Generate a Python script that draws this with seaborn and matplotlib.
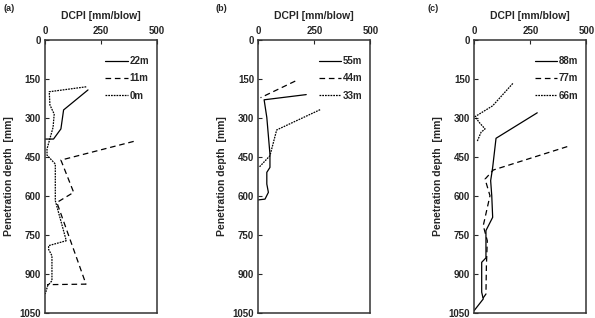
import matplotlib
matplotlib.use("Agg")
import matplotlib.pyplot as plt
import numpy as np
import pandas as pd
import seaborn as sns

# panel (a)
a_22m_dcpi = [192, 83, 71, 38, 0]
a_22m_depth = [192, 269, 342, 381, 381]
a_11m_dcpi = [396, 71, 128, 53, 183, 9]
a_11m_depth = [390, 462, 586, 625, 939, 941]
a_0m_dcpi = [184, 19, 22, 41, 36, 9, 9, 46, 46, 95, 16, 16, 31, 31, 12, 1]
a_0m_depth = [180, 199, 250, 285, 336, 419, 443, 477, 618, 772, 791, 805, 830, 926, 945, 977]

# panel (b)
b_55m_dcpi = [214, 26, 38, 52, 52, 38, 38, 45, 30, 0]
b_55m_depth = [210, 230, 298, 439, 490, 509, 554, 586, 612, 615]
b_44m_dcpi = [165, 10]
b_44m_depth = [158, 222]
b_33m_dcpi = [276, 82, 52, 3]
b_33m_depth = [268, 346, 445, 490]

# panel (c)
c_88m_dcpi = [281, 97, 82, 73, 78, 82, 52, 52, 33, 33, 40, 0]
c_88m_depth = [280, 378, 490, 541, 600, 682, 733, 838, 855, 970, 996, 1040]
c_77m_dcpi = [415, 85, 48, 70, 40, 58, 54, 52, 33]
c_77m_depth = [410, 500, 535, 599, 714, 772, 870, 977, 1000]
c_66m_dcpi = [172, 82, 3, 25, 48, 30, 13]
c_66m_depth = [167, 253, 295, 320, 342, 355, 390]

panels = [
    ('(a)', [('22m', a_22m_dcpi, a_22m_depth), ('11m', a_11m_dcpi, a_11m_depth),
             ('0m', a_0m_dcpi, a_0m_depth)]),
    ('(b)', [('55m', b_55m_dcpi, b_55m_depth), ('44m', b_44m_dcpi, b_44m_depth),
             ('33m', b_33m_dcpi, b_33m_depth)]),
    ('(c)', [('88m', c_88m_dcpi, c_88m_depth), ('77m', c_77m_dcpi, c_77m_depth),
             ('66m', c_66m_dcpi, c_66m_depth)]),
]

x_ticks = [0, 250, 500]
y_ticks = np.arange(0, 1051, 150)

sns.set_style("ticks")
plt.rcParams['font.family'] = ['Liberation Sans', 'DejaVu Sans']
plt.rcParams['font.weight'] = 'bold'
plt.rcParams['xtick.direction'] = 'in'
plt.rcParams['ytick.direction'] = 'in'

fig = plt.figure(figsize=(5.95, 3.18), dpi=100)
lefts = [45 / 595, 258.3 / 595, 474.3 / 595]
label_x = [3 / 595, 216 / 595, 427 / 595]

for i, (tag, series) in enumerate(panels):
    ax = fig.add_axes([lefts[i], 5 / 318, 112 / 595, 273 / 318])
    frames = []
    for name, dcpi, depth in series:
        frames.append(pd.DataFrame({'DCPI': dcpi, 'Depth': depth, 'Series': name}))
    df = pd.concat(frames, ignore_index=True)
    names = [s[0] for s in series]
    dashes = {names[0]: '', names[1]: (4.5, 3), names[2]: (1.4, 0.8)}
    sns.lineplot(x='DCPI', y='Depth', hue='Series', style='Series', data=df,
                 sort=False, estimator=None, palette=['black'] * 3, dashes=dashes,
                 linewidth=0.9, ax=ax)

    ax.set_xlim(0, 500)
    ax.set_ylim(1050, 0)
    ax.set_xticks(x_ticks)
    ax.set_yticks(y_ticks)
    ax.xaxis.tick_top()
    ax.xaxis.set_label_position('top')
    ax.tick_params(labelsize=7, length=3, width=0.8, pad=3)
    ax.set_xlabel('DCPI [mm/blow]', fontsize=7.5, fontweight='bold', labelpad=5)
    ax.set_ylabel('Penetration depth  [mm]', fontsize=7.5, fontweight='bold', labelpad=4)
    for sp in ax.spines.values():
        sp.set_visible(True)
        sp.set_linewidth(1.1)
        sp.set_color('#333333')

    handles, labels = ax.get_legend_handles_labels()
    ax.legend(handles, labels, loc='upper right', frameon=False, fontsize=7,
              handlelength=2.3, labelspacing=0.75, handletextpad=0.2,
              borderaxespad=0.4, bbox_to_anchor=(1.0, 0.97))

    fig.text(label_x[i], 0.965, tag, fontsize=6.5, fontweight='bold')

fig.savefig('out.png', dpi=100)
